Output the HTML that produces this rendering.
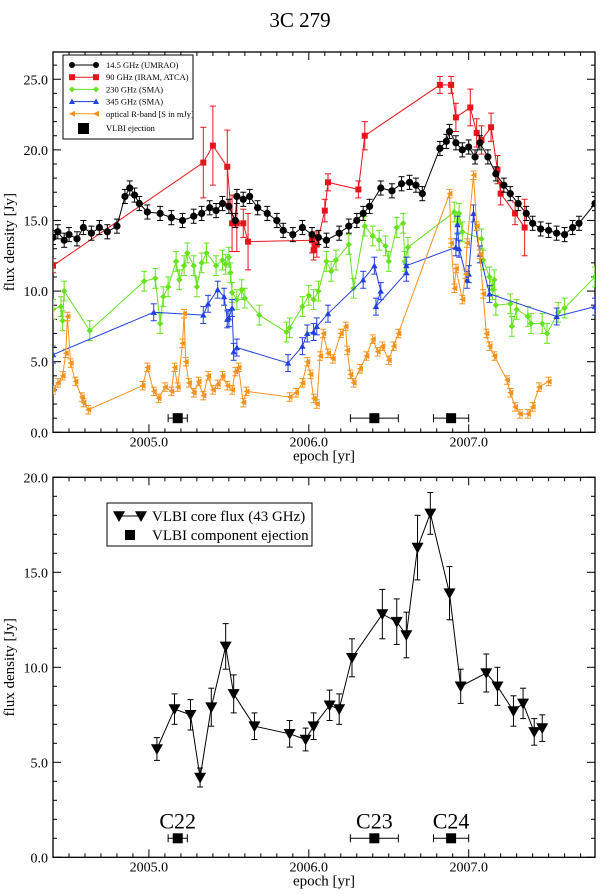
<!DOCTYPE html>
<html><head><meta charset="utf-8"><style>
html,body{margin:0;padding:0;background:#fff}
svg{display:block;font-family:"Liberation Serif",serif}
</style></head><body>
<svg id="chart" width="600" height="894" viewBox="0 0 600 894" xmlns="http://www.w3.org/2000/svg">
<text x="300" y="27" text-anchor="middle" font-size="21">3C 279</text>
<g id="top"></g>
<g id="bot"></g>
</svg>
<script>
// ---- top panel data ----
const blackX=[2004.40,2004.43,2004.47,2004.50,2004.55,2004.59,2004.64,2004.69,2004.74,2004.80,2004.85,2004.88,2004.91,2004.94,2004.99,2005.07,2005.14,2005.21,2005.28,2005.33,2005.38,2005.42,2005.46,2005.50,2005.54,2005.55,2005.59,2005.63,2005.68,2005.74,2005.80,2005.84,2005.90,2005.96,2006.02,2006.06,2006.11,2006.19,2006.25,2006.30,2006.34,2006.38,2006.45,2006.52,2006.58,2006.63,2006.67,2006.71,2006.82,2006.86,2006.88,2006.92,2006.96,2007.00,2007.04,2007.07,2007.12,2007.17,2007.22,2007.26,2007.31,2007.36,2007.40,2007.45,2007.50,2007.55,2007.60,2007.65,2007.69,2007.79];
const blackY=[13.8,14.2,13.6,14.0,13.7,14.5,14.1,14.5,14.2,14.6,16.7,17.3,16.8,16.2,15.6,15.5,15.2,15.0,15.3,15.5,15.9,15.7,16.2,16.0,15.0,16.7,16.5,16.7,15.9,15.5,15.0,14.3,14.0,14.5,14.0,13.8,13.6,14.1,14.6,15.0,15.5,16.0,17.3,17.1,17.6,17.7,17.5,16.9,20.1,20.6,21.3,20.5,20.0,20.2,19.5,20.5,19.5,18.3,17.5,16.9,16.2,15.5,14.8,14.4,14.3,14.1,14.0,14.5,14.8,16.2];
const redX=[2004.40,2005.34,2005.40,2005.49,2005.52,2005.55,2005.59,2005.62,2006.02,2006.03,2006.05,2006.10,2006.12,2006.31,2006.35,2006.82,2006.89,2006.92,2007.01,2007.05,2007.08,2007.14,2007.18,2007.20,2007.29,2007.35];
const redY=[11.8,19.1,20.3,18.8,14.8,14.8,14.8,13.5,13.6,12.9,13.3,15.7,17.7,17.2,21.0,24.6,24.6,22.3,23.0,21.2,20.7,21.6,18.6,16.9,15.5,14.5];
const redErr=[0.5,2.5,2.8,2.6,2.0,2.0,1.0,2.0,0.9,0.7,0.9,0.8,0.6,0.6,1.0,0.6,0.6,1.0,1.3,1.0,1.0,1.0,1.0,0.8,0.8,2.0];
const greenX=[2004.40,2004.45,2004.46,2004.47,2004.63,2004.97,2005.04,2005.07,2005.09,2005.12,2005.17,2005.19,2005.22,2005.24,2005.28,2005.30,2005.33,2005.36,2005.42,2005.46,2005.48,2005.50,2005.51,2005.52,2005.55,2005.58,2005.60,2005.69,2005.86,2005.88,2005.96,2006.00,2006.03,2006.06,2006.11,2006.14,2006.17,2006.25,2006.28,2006.35,2006.40,2006.44,2006.48,2006.50,2006.55,2006.59,2006.60,2006.62,2006.91,2006.93,2006.94,2006.96,2007.08,2007.09,2007.13,2007.15,2007.16,2007.17,2007.26,2007.27,2007.30,2007.37,2007.39,2007.46,2007.49,2007.56,2007.60,2007.79];
const greenY=[8.7,8.9,7.9,10.0,7.2,10.7,10.9,7.7,9.6,10.3,12.1,10.8,11.8,12.7,11.8,10.3,12.0,12.7,11.8,12.2,11.9,12.4,11.3,9.9,9.4,10.1,9.5,8.3,7.1,7.4,8.9,9.7,9.4,10.0,12.1,11.4,12.2,13.3,10.2,14.6,13.9,13.6,13.2,12.1,14.5,14.8,12.1,13.1,15.6,14.7,15.5,14.2,13.7,12.2,11.0,10.1,10.8,9.0,9.1,7.5,8.7,8.2,7.7,7.7,7.0,8.5,8.8,11.0];
const blueX=[2004.40,2005.03,2005.34,2005.37,2005.43,2005.47,2005.49,2005.50,2005.52,2005.53,2005.55,2005.87,2005.96,2005.99,2006.03,2006.05,2006.12,2006.34,2006.41,2006.45,2006.42,2006.61,2006.61,2006.92,2006.93,2006.94,2006.99,2007.00,2007.03,2007.07,2007.13,2007.55,2007.79];
const blueY=[5.5,8.5,8.3,9.1,10.1,9.6,8.0,8.1,8.8,5.7,6.0,4.9,6.1,7.0,7.1,7.5,8.4,10.8,11.8,10.0,8.9,11.3,11.8,13.1,14.7,13.0,10.8,11.2,15.5,12.6,9.8,8.2,8.9];
const orangeX=[2004.40,2004.43,2004.46,2004.48,2004.49,2004.51,2004.54,2004.58,2004.59,2004.62,2004.96,2004.99,2005.03,2005.06,2005.10,2005.14,2005.16,2005.18,2005.21,2005.22,2005.23,2005.25,2005.28,2005.31,2005.34,2005.37,2005.40,2005.43,2005.46,2005.49,2005.52,2005.54,2005.56,2005.59,2005.61,2005.88,2005.92,2005.96,2005.99,2006.01,2006.03,2006.05,2006.07,2006.09,2006.12,2006.15,2006.20,2006.23,2006.24,2006.26,2006.28,2006.32,2006.36,2006.40,2006.43,2006.46,2006.50,2006.53,2006.56,2006.88,2006.89,2006.91,2006.92,2006.96,2006.98,2006.99,2007.03,2007.05,2007.07,2007.09,2007.11,2007.13,2007.16,2007.24,2007.26,2007.29,2007.32,2007.37,2007.40,2007.44,2007.50];
const orangeY=[3.0,3.5,4.0,5.6,8.2,4.9,3.6,2.5,2.1,1.6,3.3,4.6,2.9,2.4,3.2,2.9,4.6,3.2,6.3,8.4,5.0,3.5,2.8,3.6,2.6,4.0,3.0,3.4,4.0,3.3,3.0,4.3,4.6,2.1,2.9,2.5,2.8,3.5,5.0,4.1,2.4,2.0,5.4,7.0,5.6,5.2,7.0,7.5,5.8,4.1,3.5,4.5,5.4,6.6,5.7,6.1,5.1,6.1,7.0,16.9,13.4,10.2,11.6,9.4,11.2,13.4,18.2,14.6,12.6,9.8,7.0,6.1,5.4,3.7,2.8,1.8,1.3,1.3,1.8,3.2,3.6];
const ejectX=[2005.18,2006.41,2006.89];
const ejectErr=[0.06,0.15,0.11];
const ejectY=[1.0,1.0,1.0];
// ---- bottom panel data ----
const coreX=[2005.05,2005.16,2005.26,2005.32,2005.39,2005.48,2005.53,2005.66,2005.88,2005.98,2006.03,2006.13,2006.19,2006.27,2006.46,2006.55,2006.61,2006.68,2006.76,2006.88,2006.95,2007.11,2007.18,2007.28,2007.34,2007.41,2007.46];
const coreY=[5.7,7.8,7.5,4.2,7.9,11.1,8.6,6.9,6.5,6.2,6.9,8.0,7.8,10.5,12.8,12.4,11.7,16.3,18.1,13.9,9.0,9.7,9.0,7.7,8.1,6.6,6.8];
const coreErr=[0.6,0.8,0.8,0.5,1.0,1.2,1.0,0.7,0.7,0.6,0.7,0.8,0.8,1.0,1.3,1.2,1.2,1.7,1.1,1.4,0.9,1.0,1.0,0.8,0.8,0.7,0.7];
const compLabels=["C22","C23","C24"];
const xTicks=["2005.0","2006.0","2007.0"];
const topYTicks=["0.0","5.0","10.0","15.0","20.0","25.0"];
const botYTicks=["0.0","5.0","10.0","15.0","20.0"];

const NS="http://www.w3.org/2000/svg";
function mk(parent,tag,attrs){const e=document.createElementNS(NS,tag);for(const k in attrs)e.setAttribute(k,attrs[k]);parent.appendChild(e);return e;}
const L=53,R=595,X0=2004.40,X1=2007.79;
const sx=v=>L+(v-X0)/(X1-X0)*(R-L);
function panel(g,top,bot,ymax,yLabels,yStep){
  const sy=v=>bot-(v/ymax)*(bot-top);
  const fr=mk(g,'rect',{x:L,y:top,width:R-L,height:bot-top,fill:'none',stroke:'#000','stroke-width':1.3});
  
  
  for(let i=0;i<=33;i++){const yr=2004.5+i*0.1;if(yr>X1)break;const x=sx(yr);const maj=Math.abs(yr-Math.round(yr))<0.01;const l=maj?8:4;
    mk(g,'line',{x1:x,y1:bot,x2:x,y2:bot-l,stroke:'#000'});mk(g,'line',{x1:x,y1:top,x2:x,y2:top+l,stroke:'#000'});}
  xTicks.forEach((t,i)=>{const x=sx(2005+i);const tx=mk(g,'text',{x:x,y:bot+14,'text-anchor':'middle','font-size':14});tx.textContent=t;
    
    });
  for(let v=0;v<=ymax+0.01;v+=1){const y=sy(v);const maj=Math.abs(v%5)<0.01;const l=maj?8:4;
    mk(g,'line',{x1:L,y1:y,x2:L+l,y2:y,stroke:'#000'});mk(g,'line',{x1:R,y1:y,x2:R-l,y2:y,stroke:'#000'});}
  yLabels.forEach((t,i)=>{const tx=mk(g,'text',{x:L-5,y:sy(i*yStep)+5,'text-anchor':'end','font-size':14});tx.textContent=t;
    
    });
  const xl=mk(g,'text',{x:(L+R)/2,y:bot+28,'text-anchor':'middle','font-size':15});xl.textContent='epoch [yr]';
  
  
  const yl=mk(g,'text',{x:0,y:0,'text-anchor':'middle','font-size':15,transform:`translate(14,${(top+bot)/2}) rotate(-90)`});yl.textContent='flux density [Jy]';
  
  
  return sy;
}
function marker(g,type,x,y,c,s){
  if(type==='circle')return mk(g,'circle',{cx:x,cy:y,r:s,fill:c});
  if(type==='square')return mk(g,'rect',{x:x-s,y:y-s,width:2*s,height:2*s,fill:c});
  if(type==='diamond')return mk(g,'polygon',{points:`${x},${y-s} ${x+s},${y} ${x},${y+s} ${x-s},${y}`,fill:c});
  if(type==='up')return mk(g,'polygon',{points:`${x},${y-s} ${x+s},${y+s*0.8} ${x-s},${y+s*0.8}`,fill:c});
  if(type==='down')return mk(g,'polygon',{points:`${x-s},${y-s*0.8} ${x+s},${y-s*0.8} ${x},${y+s}`,fill:c});
  if(type==='left')return mk(g,'polygon',{points:`${x-s},${y} ${x+s},${y-s} ${x+s},${y+s}`,fill:c});
}
function series(g,name,xs,ys,errs,c,type,s,clip){
  const sg=mk(g,'g',{'clip-path':clip});
  
  
  const pts=xs.map((x,i)=>sx(x)+','+SY(ys[i])).join(' ');
  mk(sg,'polyline',{points:pts,fill:'none',stroke:c,'stroke-width':1});
  xs.forEach((xv,i)=>{const x=sx(xv),y=SY(ys[i]);const e=errs?errs[i]:0;
    if(e>0){const y1=SY(ys[i]-e),y2=SY(ys[i]+e);mk(sg,'line',{x1:x,y1:y1,x2:x,y2:y2,stroke:c});
      mk(sg,'line',{x1:x-3,y1:y1,x2:x+3,y2:y1,stroke:c});mk(sg,'line',{x1:x-3,y1:y2,x2:x+3,y2:y2,stroke:c});}
    const m=marker(sg,type,x,y,c,s);
    
    });
}
function ejections(g,sy,labels){
  ejectX.forEach((xv,i)=>{const y=sy(ejectY[i]);const x1=sx(xv-ejectErr[i]),x2=sx(xv+ejectErr[i]);
    mk(g,'line',{x1:x1,y1:y,x2:x2,y2:y,stroke:'#000'});mk(g,'line',{x1:x1,y1:y-4,x2:x1,y2:y+4,stroke:'#000'});mk(g,'line',{x1:x2,y1:y-4,x2:x2,y2:y+4,stroke:'#000'});
    const r=mk(g,'rect',{x:sx(xv)-5,y:y-5,width:10,height:10,fill:'#000'});
    
    
    if(labels){const t=mk(g,'text',{x:sx(xv),y:y-10,'text-anchor':'middle','font-size':22});t.textContent=labels[i];
      
      }});
}
let SY;
// top
const gt=document.getElementById('top');
const defs=mk(document.getElementById('chart'),'defs',{});
const cp=mk(defs,'clipPath',{id:'cpt'});mk(cp,'rect',{x:L,y:52,width:R-L,height:380});
SY=panel(gt,52,432.3,26.93,topYTicks,5);
const err05=blackX.map(()=>0.5), errG=greenX.map(()=>0.7), errB=blueX.map(()=>0.6), errO=orangeX.map(()=>0.3);
series(gt,'series-90ghz',redX,redY,redErr,'#e8141b','square',3,'url(#cpt)');
series(gt,'series-230ghz',greenX,greenY,errG,'#66e21f','diamond',3.2,'url(#cpt)');
series(gt,'series-345ghz',blueX,blueY,errB,'#2040e0','up',3.2,'url(#cpt)');
series(gt,'series-optical',orangeX,orangeY,errO,'#f5921e','left',3,'url(#cpt)');
series(gt,'series-14ghz',blackX,blackY,err05,'#000','circle',3.6,'url(#cpt)');
ejections(gt,SY,null);
// legend top
const lg=mk(gt,'g',{});


mk(lg,'rect',{x:63,y:55,width:130,height:84,fill:'#fff',stroke:'#000'});
const leg=[['14.5 GHz (UMRAO)','#000','circle'],['90 GHz (IRAM, ATCA)','#e8141b','square'],['230 GHz (SMA)','#66e21f','diamond'],['345 GHz (SMA)','#2040e0','up'],['optical R-band [S in mJy]','#f5921e','left']];
leg.forEach((e,i)=>{const y=65+i*12.2;mk(lg,'line',{x1:72,y1:y,x2:96,y2:y,stroke:e[1]});marker(lg,e[2],72,y,e[1],3);marker(lg,e[2],96,y,e[1],3);
  const t=mk(lg,'text',{x:106,y:y+3,'font-size':8.5});t.textContent=e[0];
  
  });
mk(lg,'rect',{x:78,y:123,width:11,height:11,fill:'#000'});
const lt=mk(lg,'text',{x:106,y:131,'font-size':8.5});lt.textContent='VLBI ejection';


// bottom
const gb=document.getElementById('bot');
SY=panel(gb,477.3,857.3,20,botYTicks,5);
series(gb,'series-core-flux',coreX,coreY,coreErr,'#000','down',6,null);
ejections(gb,SY,compLabels);
const lb=mk(gb,'g',{});


mk(lb,'rect',{x:107,y:503,width:205,height:43,fill:'#fff',stroke:'#000'});
mk(lb,'line',{x1:119,y1:516,x2:141,y2:516,stroke:'#000'});marker(lb,'down',119,516,'#000',6);marker(lb,'down',141,516,'#000',6);
const b1=mk(lb,'text',{x:152,y:521,'font-size':15});b1.textContent='VLBI core flux (43 GHz)';


mk(lb,'rect',{x:125,y:530,width:10,height:10,fill:'#000'});
const b2=mk(lb,'text',{x:152,y:540,'font-size':15});b2.textContent='VLBI component ejection';


</script>
</body></html>
